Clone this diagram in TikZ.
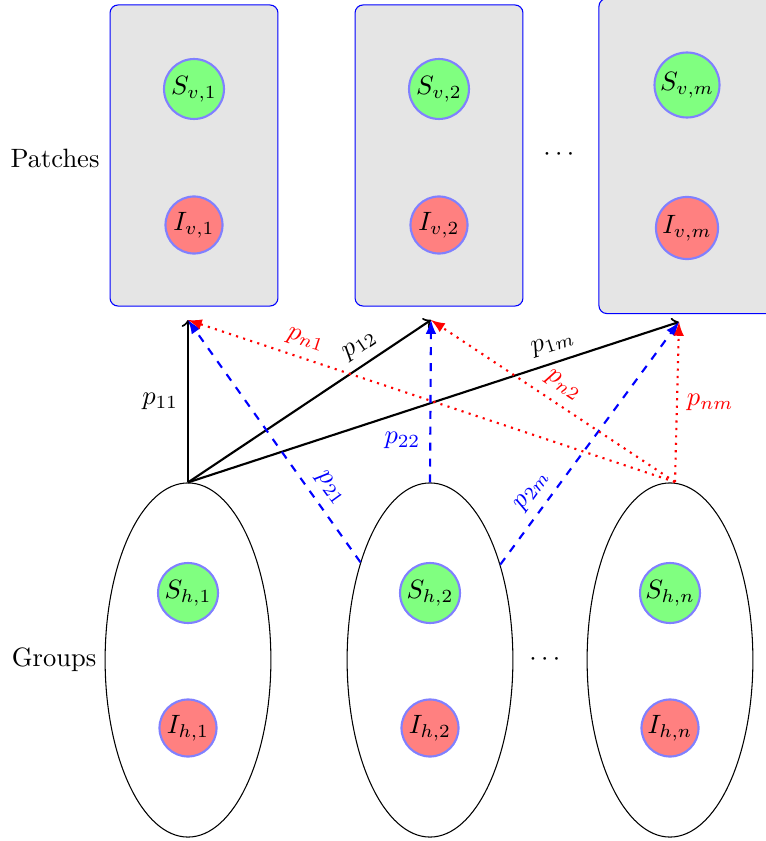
\documentclass[tikz,border=0pt]{standalone}
\usepackage{amsmath}
\usepackage{amssymb}
\usepackage{tikz}
\usetikzlibrary{shapes}

\tikzset{
  patchbox/.style={draw=blue, fill=gray!20, rounded corners=3pt, minimum width=63.3pt, minimum height=113.5pt},
  grpbox/.style={draw, ellipse, minimum width=62.5pt, minimum height=133.5pt},
  sus/.style={circle, draw=blue!50, fill=green!50, thick, minimum size=22.6pt, inner sep=0pt},
  inf/.style={circle, draw=blue!50, fill=red!50, thick, minimum size=21.5pt, inner sep=0pt},
}

\begin{document}
\begin{tikzpicture}[x=0.377pt,y=0.377pt,yscale=-1,xscale=1]
\useasboundingbox (0,0) rectangle (766,841);
%Patches
\node [patchbox] (patch1) at (194,155.5) {};
\node [patchbox] (patch2) at (439,155.5) {};
\node [patchbox, minimum width=66.4pt, minimum height=118.8pt] (patch3) at (687,156) {};
\node [sus] (sv1) at (194,89) {$S_{v,1}$};
\node [inf] (iv1) at (194,225) {$I_{v,1}$};
\node [sus] (sv2) at (439,89) {$S_{v,2}$};
\node [inf] (iv2) at (439,225) {$I_{v,2}$};
\node [sus, minimum size=24.5pt] (svm) at (687,85) {$S_{v,m}$};
\node [inf, minimum size=23.4pt] (ivm) at (687,228) {$I_{v,m}$};
\node (lpatch) at (55,158) {Patches};
\node (dotsv) at (561,155) {$\cdots$};
%Groups
\node [grpbox] (grp1) at (188,660) {};
\node [grpbox] (grp2) at (430,660) {};
\node [grpbox] (grp3) at (670,660) {};
\node [sus] (sh1) at (188,593) {$S_{h,1}$};
\node [inf] (ih1) at (188,728) {$I_{h,1}$};
\node [sus] (sh2) at (430,593) {$S_{h,2}$};
\node [inf] (ih2) at (430,728) {$I_{h,2}$};
\node [sus] (shn) at (670,593) {$S_{h,n}$};
\node [inf] (ihn) at (670,728) {$I_{h,n}$};
\node (lgroup) at (54,660) {Groups};
\node (dotsh) at (547,660) {$\cdots$};
%Targets
\coordinate (t1) at (188,320);
\coordinate (t2) at (431,320);
\coordinate (t3) at (679,322);
\coordinate (s3) at (675,482);
%Group 1
\draw [thick, ->] (grp1.north) -- (t1) node [midway, left] {$p_{11}$};
\draw [thick, ->] (grp1.north) -- (t2) node [pos=0.75, rotate=34, anchor=south] {$p_{12}$};
\draw [thick, ->] (grp1.north) -- (t3) node [pos=0.755, rotate=18, anchor=south] {$p_{1m}$};
%Group 2
\draw [thick, blue, dashed, -latex] (grp2) -- (t1) node [pos=0.26, rotate=-54, anchor=south] {$p_{21}$};
\draw [thick, blue, dashed, -latex] (grp2.north) -- (t2) node [pos=0.26, left] {$p_{22}$};
\draw [thick, blue, dashed, -latex] (grp2) -- (t3) node [pos=0.26, rotate=54, anchor=south] {$p_{2m}$};
%Group n
\draw [thick, red, dotted, -latex] (s3) -- (t1) node [pos=0.77, rotate=-18, anchor=south] {$p_{n1}$};
\draw [thick, red, dotted, -latex] (s3) -- (t2) node [pos=0.5, rotate=-34, anchor=south] {$p_{n2}$};
\draw [thick, red, dotted, -latex] (s3) -- (t3) node [midway, right] {$p_{nm}$};
\end{tikzpicture}
\end{document}
